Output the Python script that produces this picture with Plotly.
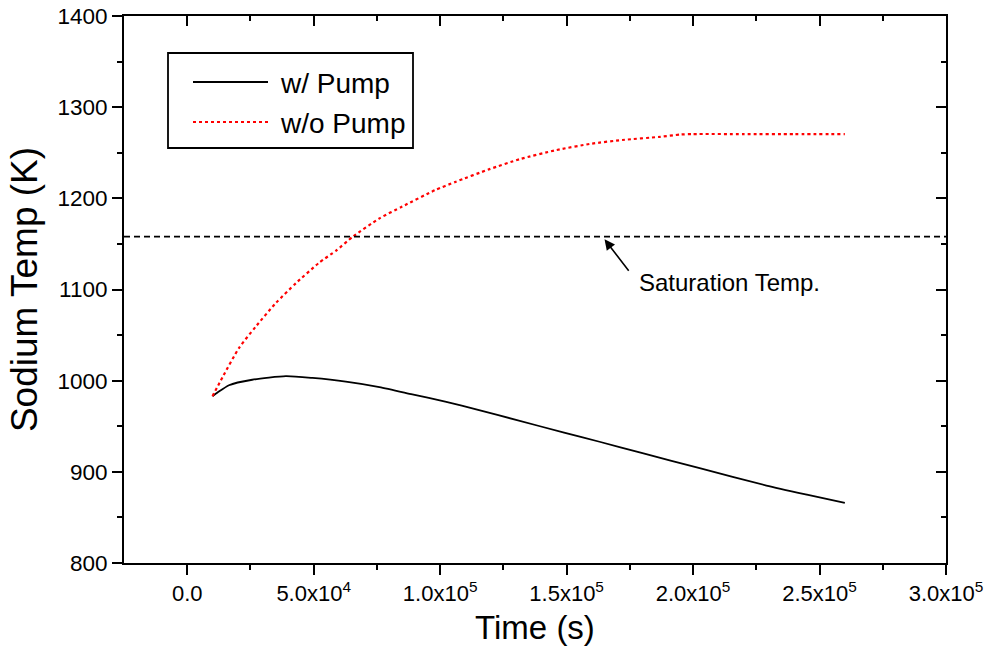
import plotly.graph_objects as go

# ---- data ----
time_wo_pump = [10e3, 14e3, 20.5e3, 27e3, 35e3, 43e3, 52e3, 59e3, 65.5e3, 76e3, 85e3, 98e3,
                106e3, 119.5e3, 131.5e3, 146e3, 160e3, 172e3, 187e3, 195e3, 200e3, 220e3, 240e3, 260e3]
temp_wo_pump = [983, 1004, 1036, 1059, 1085, 1107, 1129, 1143, 1158, 1178, 1191, 1209,
                1218, 1232, 1243, 1253, 1260, 1264, 1267.5, 1270, 1270.5, 1270.5, 1270.5, 1270.5]

time_w_pump = [10e3, 12e3, 16.5e3, 25.7e3, 39e3, 49.5e3, 62.7e3, 76e3, 89e3, 102e3, 115e3,
               130e3, 149e3, 163e3, 180e3, 202.6e3, 229e3, 245e3, 260e3]
temp_w_pump = [983, 987, 995, 1001, 1005, 1003, 999, 993, 985, 977, 968,
               957, 943, 933, 920.5, 904, 885, 875, 866]

sat_temp = 1158
series_names = ["w/ Pump", "w/o Pump"]
sat_label = "Saturation Temp."

x_tickvals = [0, 5e4, 1e5, 1.5e5, 2e5, 2.5e5, 3e5]
x_ticktext = ["0.0", "5.0x10<sup>4</sup>", "1.0x10<sup>5</sup>", "1.5x10<sup>5</sup>",
              "2.0x10<sup>5</sup>", "2.5x10<sup>5</sup>", "3.0x10<sup>5</sup>"]
x_minor = [2.5e4, 7.5e4, 1.25e5, 1.75e5, 2.25e5, 2.75e5]
y_tickvals = [800, 900, 1000, 1100, 1200, 1300, 1400]
y_minor = [850, 950, 1050, 1150, 1250, 1350]

X_RANGE = [-25000, 300000]
Y_RANGE = [800, 1400]

FONT = "Liberation Sans, Arial, sans-serif"

# ---- layout geometry (pixels) ----
W, H = 986, 661
L, R, T, B = 124, 946, 16, 563


def px(xp):
    return (xp - L) / (R - L)


def py(yp):
    return (B - yp) / (B - T)


fig = go.Figure()
fig.add_trace(go.Scatter(x=time_w_pump, y=temp_w_pump, mode="lines", name=series_names[0],
                         line=dict(color="black", width=1.8, shape="spline", smoothing=0.6),
                         showlegend=False))
fig.add_trace(go.Scatter(x=time_wo_pump, y=temp_wo_pump, mode="lines", name=series_names[1],
                         line=dict(color="red", width=2.2, dash="dot", shape="spline", smoothing=0.6),
                         showlegend=False))

axis_common = dict(showgrid=False, zeroline=False, showline=True, linecolor="black",
                   linewidth=2, tickcolor="black", tickwidth=2, automargin=False)

fig.update_layout(
    width=W, height=H,
    margin=dict(l=L, r=W - R, t=T, b=H - B, autoexpand=False),
    paper_bgcolor="white", plot_bgcolor="white",
    font=dict(family=FONT, color="black"),
    xaxis=dict(range=X_RANGE, tickmode="array", tickvals=x_tickvals, ticktext=x_ticktext,
               ticks="outside", ticklen=10, tickfont=dict(size=22, family=FONT),
               minor=dict(tickmode="array", tickvals=x_minor, ticks="outside", ticklen=5,
                          tickwidth=2, tickcolor="black"),
               title=dict(text="Time (s)", font=dict(size=33, family=FONT), standoff=10),
               **axis_common),
    yaxis=dict(range=Y_RANGE, tickmode="array", tickvals=y_tickvals,
               ticktext=[str(v) for v in y_tickvals],
               ticks="outside", ticklen=10, tickfont=dict(size=22.5, family=FONT),
               minor=dict(tickmode="array", tickvals=y_minor, ticks="outside", ticklen=5,
                          tickwidth=2, tickcolor="black"),
               title=dict(text="Sodium Temp (K)", font=dict(size=37, family=FONT), standoff=8),
               **axis_common),
    xaxis2=dict(range=X_RANGE, overlaying="x", side="top", anchor="y", tickmode="array",
                tickvals=x_tickvals, ticks="inside", ticklen=10, showticklabels=False,
                minor=dict(tickmode="array", tickvals=x_minor, ticks="inside", ticklen=5,
                           tickwidth=2, tickcolor="black"),
                **axis_common),
    yaxis2=dict(range=Y_RANGE, overlaying="y", side="right", anchor="x", tickmode="array",
                tickvals=y_tickvals, ticks="inside", ticklen=10, showticklabels=False,
                minor=dict(tickmode="array", tickvals=y_minor, ticks="inside", ticklen=5,
                           tickwidth=2, tickcolor="black"),
                **axis_common),
)

# invisible helper trace so the mirrored axes are drawn
fig.add_trace(go.Scatter(x=[X_RANGE[0]], y=[Y_RANGE[0]], xaxis="x2", yaxis="y2",
                         mode="markers", marker=dict(opacity=0), showlegend=False,
                         hoverinfo="skip"))

# saturation temperature line
fig.add_shape(type="line", xref="paper", yref="y", x0=0, x1=1, y0=sat_temp, y1=sat_temp,
              line=dict(color="black", width=1.6, dash="6px,4px"))

# arrow + label
fig.add_annotation(x=165000, y=1155, ax=175000, ay=1119, xref="x", yref="y",
                   axref="x", ayref="y", text="", showarrow=True, arrowhead=2,
                   arrowsize=1.3, arrowwidth=1.6, arrowcolor="black", standoff=0)
fig.add_annotation(x=214400, y=1108, xref="x", yref="y", text=sat_label, showarrow=False,
                   xanchor="center", yanchor="middle", font=dict(size=24, family=FONT))

# custom legend box
fig.add_shape(type="rect", xref="paper", yref="paper", x0=px(168), x1=px(413),
              y0=py(148), y1=py(53), line=dict(color="black", width=1.8), fillcolor="white",
              layer="above")
fig.add_shape(type="line", xref="paper", yref="paper", x0=px(193), x1=px(268),
              y0=py(82), y1=py(82), line=dict(color="black", width=1.8))
fig.add_shape(type="line", xref="paper", yref="paper", x0=px(193), x1=px(268),
              y0=py(122), y1=py(122), line=dict(color="red", width=2.2, dash="dot"))
fig.add_annotation(x=px(278), y=py(83), xref="paper", yref="paper", text=series_names[0],
                   showarrow=False, xanchor="left", yanchor="middle",
                   font=dict(size=28, family=FONT))
fig.add_annotation(x=px(278), y=py(124), xref="paper", yref="paper", text=series_names[1],
                   showarrow=False, xanchor="left", yanchor="middle",
                   font=dict(size=28, family=FONT))

fig.write_html("out.html")
